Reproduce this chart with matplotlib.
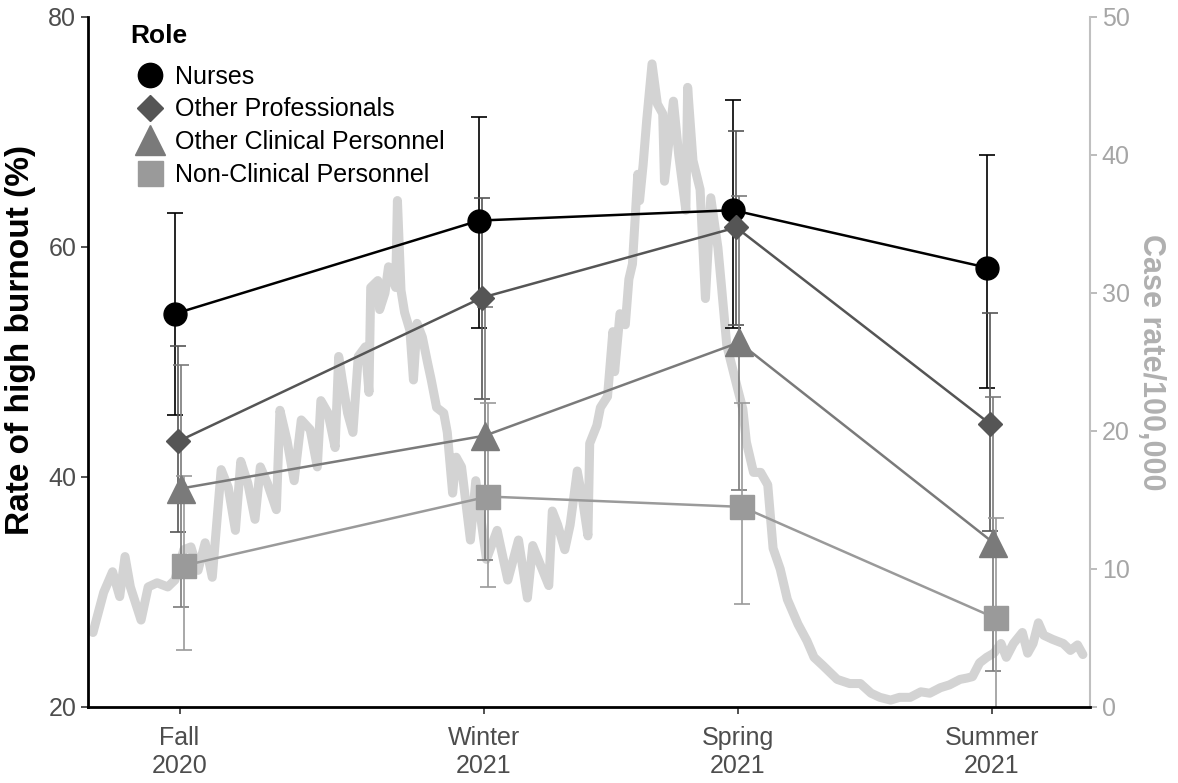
import matplotlib
matplotlib.use('Agg')
import matplotlib.pyplot as plt
from matplotlib.lines import Line2D
import numpy as np

plt.rcParams['font.family'] = ['Liberation Sans', 'DejaVu Sans']

# survey waves (day index on the same axis as the case series)
seasons = ['Fall\n2020', 'Winter\n2021', 'Spring\n2021', 'Summer\n2021']
season_day = [48.6, 219.4, 362.1, 504.8]

roles = ['Nurses', 'Other Professionals', 'Other Clinical Personnel', 'Non-Clinical Personnel']
burnout = {
    'Nurses': [54.2, 62.3, 63.2, 58.2],
    'Other Professionals': [43.1, 55.6, 61.7, 44.6],
    'Other Clinical Personnel': [39.0, 43.6, 51.7, 34.3],
    'Non-Clinical Personnel': [32.3, 38.3, 37.4, 27.7],
}
ci_low = {
    'Nurses': [45.4, 53.0, 53.0, 47.7],
    'Other Professionals': [35.2, 46.8, 53.2, 35.3],
    'Other Clinical Personnel': [28.7, 32.8, 38.9, 23.1],
    'Non-Clinical Personnel': [25.0, 30.4, 29.0, 18.5],
}
ci_high = {
    'Nurses': [63.0, 71.3, 72.8, 68.0],
    'Other Professionals': [51.4, 64.3, 70.1, 54.3],
    'Other Clinical Personnel': [49.7, 54.8, 64.4, 47.0],
    'Non-Clinical Personnel': [40.1, 46.4, 46.4, 36.4],
}

# daily case rate per 100,000
case_day = [0, 6, 11, 15, 18, 21, 27, 31, 36, 42, 46, 51, 55, 59, 63, 67, 72, 76, 80, 83,
            87, 91, 94, 98, 103, 105, 109, 113, 117, 122, 126, 128, 132, 136, 138, 140, 143, 146, 149, 153,
            155, 156, 160, 161, 164, 166, 170, 171, 173, 175, 178, 180, 182, 185, 188, 190, 193, 197, 199, 202,
            204, 207, 212, 215, 221, 227, 233, 239, 244, 247, 251, 256, 258, 261, 265, 268, 272, 275, 278, 279,
            283, 285, 289, 292, 293, 296, 299, 301, 303, 306, 307, 309, 311, 314, 317, 320, 321, 326, 329, 333,
            334, 337, 341, 344, 347, 351, 353, 356, 362, 365, 367, 371, 375, 379, 382, 386, 390, 396, 401, 405,
            410, 418, 425, 431, 437, 442, 448, 453, 459, 465, 470, 476, 481, 487, 491, 494, 498, 502, 506, 510,
            513, 517, 522, 525, 528, 531, 534, 539, 545, 549, 553, 556]
case_rate = [5.4, 8.3, 9.8, 8.0, 10.9, 8.7, 6.3, 8.7, 9.0, 8.7, 9.2, 11.4, 11.6, 9.9, 11.9, 9.4, 17.2, 15.9, 12.8, 17.8,
             16.2, 13.6, 17.4, 16.2, 14.3, 21.5, 19.3, 16.4, 20.8, 20.1, 17.4, 22.2, 21.3, 18.8, 25.4, 23.7, 21.3, 19.9, 25.4, 26.1,
             22.8, 30.4, 30.9, 28.8, 30.0, 31.9, 30.4, 36.7, 30.2, 28.6, 27.3, 23.7, 27.8, 26.8, 24.9, 23.7, 21.7, 21.3, 19.9, 15.5,
             18.1, 17.4, 12.1, 16.4, 10.7, 12.8, 9.2, 12.1, 7.9, 11.7, 10.4, 8.8, 14.2, 13.2, 11.4, 13.2, 17.1, 15.0, 12.4, 19.1,
             20.4, 21.7, 22.5, 27.2, 24.3, 28.5, 27.7, 31.0, 32.1, 38.6, 36.7, 39.3, 42.5, 46.6, 43.7, 43.0, 38.1, 43.9, 40.0, 36.0,
             44.9, 39.6, 37.5, 29.6, 36.9, 33.3, 30.5, 26.2, 23.1, 21.6, 19.2, 17.0, 17.0, 16.1, 11.5, 10.0, 7.8, 6.0, 4.8, 3.6,
             3.0, 2.0, 1.7, 1.7, 1.0, 0.7, 0.5, 0.7, 0.7, 1.1, 1.0, 1.4, 1.6, 2.0, 2.1, 2.2, 3.2, 3.6, 3.9, 4.6,
             3.6, 4.6, 5.4, 3.9, 4.6, 6.1, 5.2, 4.9, 4.6, 4.1, 4.5, 3.8]

colors = {'Nurses': '#000000', 'Other Professionals': '#555555',
          'Other Clinical Personnel': '#7a7a7a', 'Non-Clinical Personnel': '#9a9a9a'}
markers = {'Nurses': ('o', 16.5), 'Other Professionals': ('D', 12.5),
           'Other Clinical Personnel': ('^', 20), 'Non-Clinical Personnel': ('s', 17)}
dodge = [-2.5, -0.8, 0.8, 2.5]

fig = plt.figure(figsize=(11.78, 7.83), dpi=100)
ax = fig.add_axes([88 / 1178, 1 - 707 / 783, (1090 - 88) / 1178, (707 - 17) / 783])
ax2 = ax.twinx()

ax2.plot(case_day, case_rate, color='#d3d3d3', lw=6.5, solid_joinstyle='round', solid_capstyle='round')
ax2.set_ylim(0, 50)
ax2.set_yticks(range(0, 51, 10))
ax2.tick_params(axis='y', colors='#b0b0b0', labelcolor='#a6a6a6', labelsize=18, length=5, width=1.2)
ax2.set_ylabel('Case rate/100,000', rotation=270, fontsize=22, fontweight='bold',
               color='#b0b0b0', labelpad=26)
for s in ['top', 'left', 'bottom']:
    ax2.spines[s].set_visible(False)
ax2.spines['right'].set_color('#c0c0c0')
ax2.spines['right'].set_linewidth(1.5)

# burnout on top of the case curve
ax.set_zorder(ax2.get_zorder() + 1)
ax.patch.set_visible(False)

for i, role in enumerate(roles):
    x = np.array(season_day) + dodge[i]
    y = np.array(burnout[role])
    lo = y - np.array(ci_low[role])
    hi = np.array(ci_high[role]) - y
    ax.errorbar(x, y, yerr=[lo, hi], fmt='none', ecolor=colors[role], elinewidth=1.2,
                capsize=6, capthick=1.2, zorder=2)
    m, ms = markers[role]
    ax.plot(x, y, color=colors[role], lw=1.8, marker=m, ms=ms, mec=colors[role], zorder=3 + i * 0.1)

ax.set_xlim(-2.8, 560)
ax.set_ylim(20, 80)
ax.set_yticks([20, 40, 60, 80])
ax.set_xticks(season_day)
ax.set_xticklabels(seasons)
ax.tick_params(axis='both', colors='#333333', labelcolor='#4d4d4d', labelsize=18, length=5, width=1.2)
ax.tick_params(axis='x', pad=8.5)
ax.set_ylabel('Rate of high burnout (%)', fontsize=24, fontweight='bold')
ax.yaxis.set_label_coords(-0.052, 0.532)
for s in ['top', 'right']:
    ax.spines[s].set_visible(False)
for s in ['left', 'bottom']:
    ax.spines[s].set_linewidth(2)

handles = [Line2D([], [], ls='none', marker=markers[r][0], ms=markers[r][1] + 1,
                  color=colors[r]) for r in roles]
leg = ax.legend(handles, roles, loc='upper left',
                bbox_to_anchor=(130 / 1178, 1 - 60 / 783), bbox_transform=fig.transFigure,
                frameon=False, fontsize=18, labelspacing=0.34, handletextpad=0.4,
                handlelength=1.2, borderpad=0.2, borderaxespad=0)
fig.text(130 / 1178, 1 - 36 / 783, 'Role', fontsize=19, fontweight='bold', va='center', ha='left')

fig.savefig('out.png', dpi=100)
